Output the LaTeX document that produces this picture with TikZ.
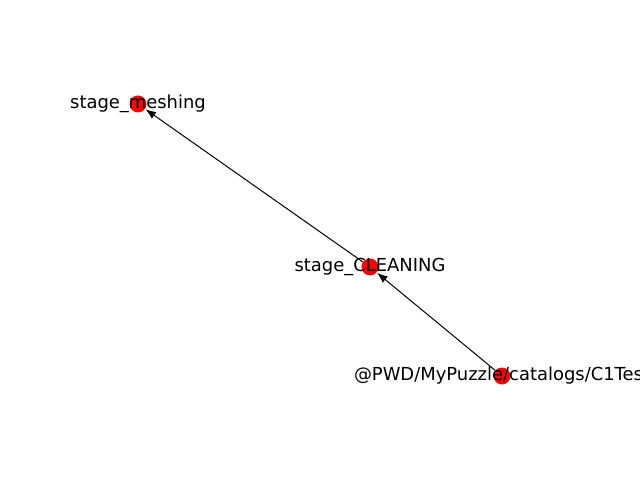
\documentclass[tikz,border=0pt]{standalone}
\usepackage{fontspec}
\setmainfont{DejaVu Sans}
\usetikzlibrary{arrows.meta}
\begin{document}
\begin{tikzpicture}[x=1bp,y=-1bp,
  dot/.style={circle,fill=red,draw=none,minimum size=17bp,inner sep=0pt},
  lbl/.style={inner sep=0pt,font=\fontsize{18}{22}\selectfont,text=black},
  edge/.style={draw=black,line width=1bp,-{Latex[length=10.5bp,width=8bp]},shorten >=0.5bp}]
\useasboundingbox (0,0) rectangle (640,480);
\clip (0,0) rectangle (640,480);
\fill[white] (0,0) rectangle (640,480);
\node[dot] (m) at (138,104) {};
\node[dot] (c) at (370,267) {};
\node[dot] (p) at (502,376) {};
\draw[edge] (c) -- (m);
\draw[edge] (p) -- (c);
\node[lbl] (lm) at (138,104) {stage\_meshing};
\node[lbl] (lc) at (370,267) {stage\_CLEANING};
\node[lbl] (lp) at (502,376) {@PWD/MyPuzzle/catalogs/C1Test};
\end{tikzpicture}
\end{document}
